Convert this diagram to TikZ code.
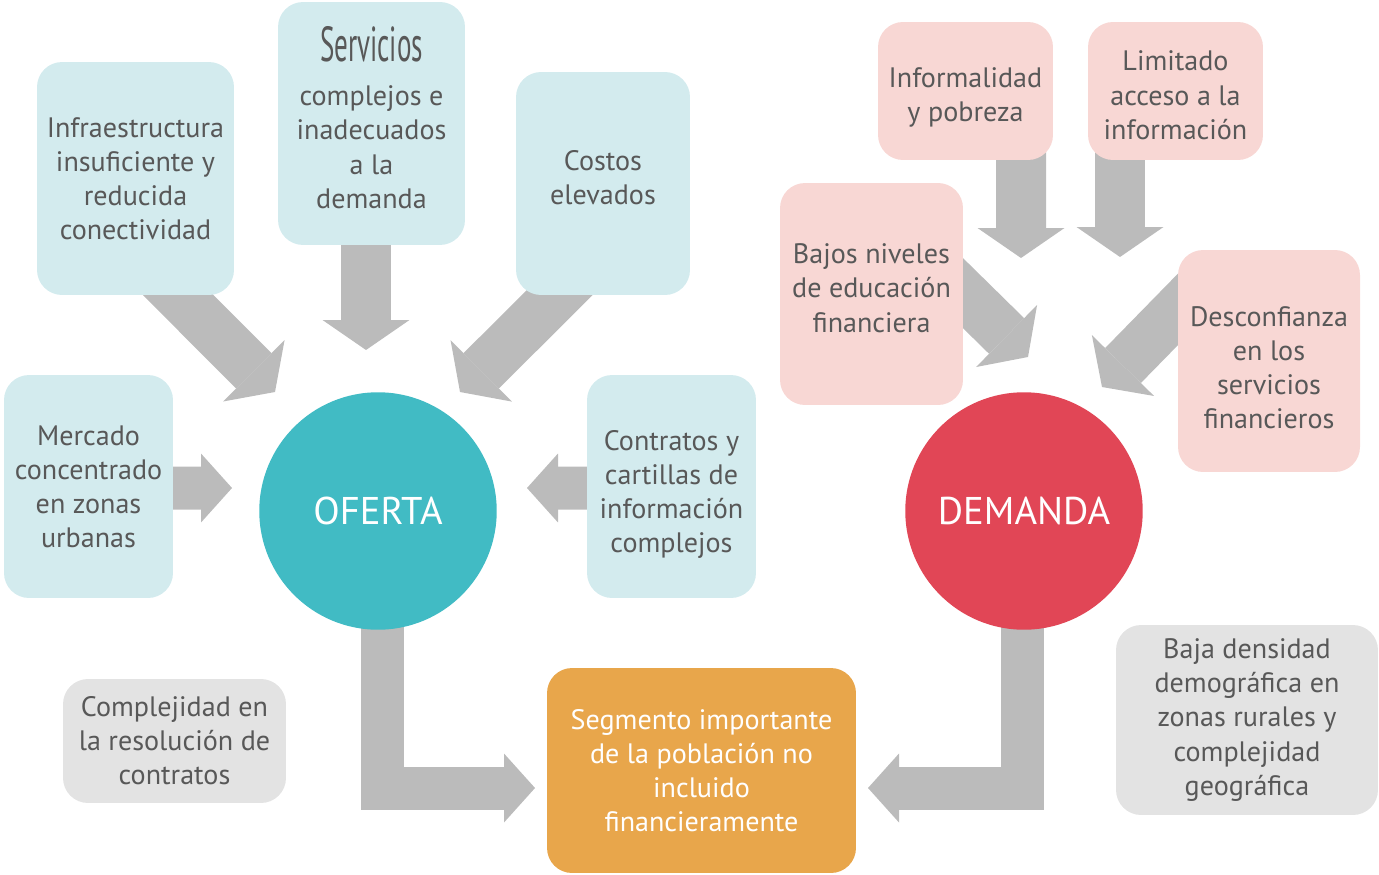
\documentclass[tikz,border=0pt]{standalone}
\usepackage{fontspec}
\setmainfont{PT Sans}
\newfontfamily\estrecha[FakeStretch=0.55]{PT Sans}
\usetikzlibrary{arrows.meta,calc,backgrounds}
\definecolor{azulclaro}{HTML}{D3EBEE}
\definecolor{rosaclaro}{HTML}{F8D7D4}
\definecolor{grisclaro}{HTML}{E3E3E3}
\definecolor{turquesa}{HTML}{41BBC4}
\definecolor{rojo}{HTML}{E14656}
\definecolor{naranja}{HTML}{E8A64B}
\definecolor{flechagris}{HTML}{BBBBBB}
\definecolor{texto}{HTML}{585858}

\begin{document}
\begin{tikzpicture}[x=0.02cm, y=-0.02cm,
    caja/.style={rectangle, rounded corners=0.5cm, inner sep=0pt, align=center,
      text=texto, font=\fontsize{16}{19.4}\selectfont},
    oferta/.style={caja, fill=azulclaro},
    demanda/.style={caja, fill=rosaclaro},
    otro/.style={caja, fill=grisclaro},
    circulo/.style={circle, inner sep=0pt, minimum size=4.75cm, text=white,
      font=\fontsize{22}{24}\selectfont},
    flecha/.style={line width=1cm, flechagris, line join=miter,
      -{Triangle[length=0.6cm, width=1.74cm, line width=0pt]}},
    flechah/.style={line width=0.86cm, flechagris, line join=miter,
      -{Triangle[length=0.62cm, width=1.38cm, line width=0pt]}}]
  \useasboundingbox (0,0) rectangle (1379,875);

  % factores de la oferta
  \node[oferta, minimum width=3.94cm, minimum height=4.66cm] (infra) at (135.5,178.5)
    {Infraestructura\\insuficiente y\\reducida\\conectividad};
  \node[oferta, minimum width=3.74cm, minimum height=4.86cm, text depth=0.24cm] (servicios) at (371.5,123.5)
    {{\estrecha\fontsize{28}{28}\selectfont Servicios}\\[5.6pt]complejos e\\inadecuados\\a la\\demanda};
  \node[oferta, minimum width=3.48cm, minimum height=4.46cm, text depth=0.24cm] (costos) at (603,183.5)
    {Costos\\elevados};
  \node[oferta, minimum width=3.38cm, minimum height=4.46cm] (mercado) at (88.5,486.5)
    {Mercado\\concentrado\\en zonas\\urbanas};
  \node[oferta, minimum width=3.38cm, minimum height=4.46cm, text height=79pt] (contratos) at (671.5,486.5)
    {Contratos y\\cartillas de\\información\\complejos};
  \node[otro, minimum width=4.46cm, minimum height=2.48cm] (complejidad) at (174.5,741)
    {Complejidad en\\la resolución de\\contratos};

  % factores de la demanda
  \node[demanda, minimum width=3.5cm, minimum height=2.76cm, text height=38pt] (informalidad) at (965.5,91)
    {Informalidad\\y pobreza};
  \node[demanda, minimum width=3.5cm, minimum height=2.76cm, text height=55pt] (limitado) at (1175.5,91)
    {Limitado\\acceso a la\\información};
  \node[demanda, minimum width=3.66cm, minimum height=4.44cm, text depth=0.24cm] (bajos) at (871.5,294)
    {Bajos niveles\\de educación\\financiera};
  \node[demanda, minimum width=3.64cm, minimum height=4.44cm, text height=77pt] (desconfianza) at (1269,361)
    {Desconfianza\\en los\\servicios\\financieros};
  \node[otro, minimum width=5.24cm, minimum height=3.8cm] (baja) at (1247,720)
    {Baja densidad\\demográfica en\\zonas rurales y\\complejidad\\geográfica};

  % centros
  \node[circulo, fill=turquesa] (ofertac) at (378,511) {OFERTA};
  \node[circulo, fill=rojo] (demandac) at (1024,511) {DEMANDA};
  \node[caja, fill=naranja, text=white, minimum width=6.18cm, minimum height=4.1cm] (segmento) at (701.5,770.5)
    {Segmento importante\\de la población no\\incluido\\financieramente};

  % puntas de flecha
  \coordinate (pInfra) at (275,392);
  \coordinate (pServ) at (366,350);
  \coordinate (pCostos) at (460,392);
  \coordinate (pMerc) at (232,488);
  \coordinate (pContr) at (527,488);
  \coordinate (pOferta) at (535,788);
  \coordinate (pDemanda) at (868,788);
  \coordinate (pInform) at (1021,258);
  \coordinate (pLimit) at (1120,257);
  \coordinate (pBajos) at (1028,357);
  \coordinate (pDesc) at (1102,387);

  \begin{scope}[on background layer]
    \draw[flecha] ($(infra.south)+(3,-40)$) -- (pInfra);
    \draw[flecha] ($(servicios.south)+(-5.5,-20)$) -- (pServ);
    \draw[flecha] ($(costos.south)+(-6,-40)$) -- (pCostos);
    \draw[flechah] ($(mercado.east)+(-20,1.5)$) -- (pMerc);
    \draw[flechah] ($(contratos.west)+(20,1.5)$) -- (pContr);
    \draw[flechah] ($(ofertac.center)+(4,0)$) |- (pOferta);
    \draw[flechah] ($(demandac.center)+(-2,0)$) |- (pDemanda);
    \draw[flecha] ($(informalidad.south)+(55.5,-20)$) -- (pInform);
    \draw[flecha] ($(limitado.south)+(-55.5,-20)$) -- (pLimit);
    \draw[flecha] ($(bajos.east)+(-30,-30)$) -- (pBajos);
    \draw[flecha] ($(desconfianza.west)+(30,-82)$) -- (pDesc);
  \end{scope}
\end{tikzpicture}
\end{document}
